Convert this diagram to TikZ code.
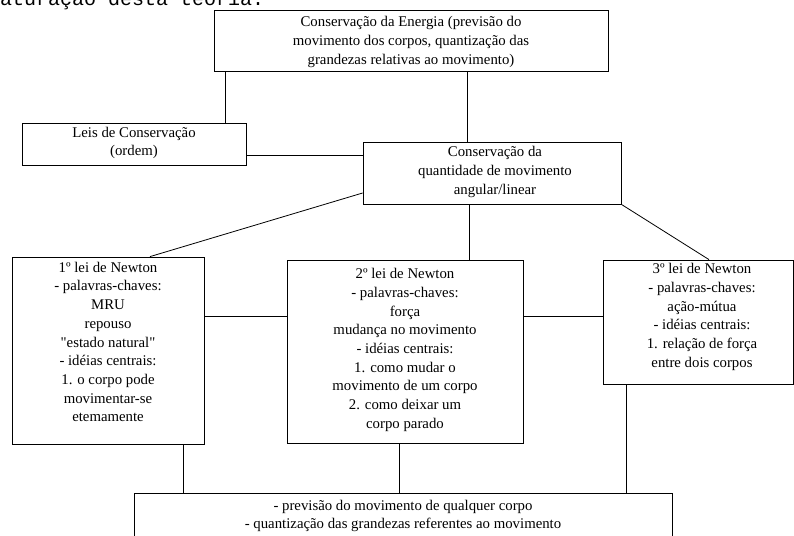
\documentclass[tikz,border=0pt]{standalone}
\usepackage{fontspec}
\setmainfont{Liberation Serif}
\newfontfamily\monofrag{Liberation Mono}
\begin{document}
\begin{tikzpicture}[x=1pt,y=-1pt,
  box/.style={draw, line width=0.8pt, inner sep=0pt},
  txt/.style={align=center, inner sep=0pt, font=\fontsize{14.8}{18.7}\selectfont},
  conn/.style={line width=0.8pt}]
\clip (0,0) rectangle (794,535);
\useasboundingbox (0,0) rectangle (794,535);
% fragment of the preceding text line (cut by the top edge, as in the reference)
\node[anchor=base west, inner sep=0pt, font=\monofrag\fontsize{20}{20}\selectfont] (frag) at (0,5.5) {aturação desta teoria.};
% boxes
\node[box, minimum width=394pt, minimum height=61pt] (energia) at (411,40.5) {};
\node[box, minimum width=224pt, minimum height=42pt] (leis) at (134,144) {};
\node[box, minimum width=258pt, minimum height=62pt] (cq) at (492,173) {};
\node[box, minimum width=192pt, minimum height=187pt] (n1) at (108,350.5) {};
\node[box, minimum width=236pt, minimum height=183pt] (n2) at (405,351.5) {};
\node[box, minimum width=190pt, minimum height=124pt] (n3) at (698,322) {};
\node[box, minimum width=538pt, minimum height=67pt] (prev) at (403,526.5) {};
% texts
\node[txt] (tE) at (411,42) {Conservação da Energia (previsão do\\movimento dos corpos, quantização das\\grandezas relativas ao movimento)};
\node[txt] (tL) at (134,143) {Leis de Conservação\\(ordem)};
\node[txt] (tC) at (495,172) {Conservação da\\quantidade de movimento\\angular/linear};
\node[txt] (t1) at (108,342) {1º lei de Newton\\- palavras-chaves:\\MRU\\repouso\\\textquotedbl estado natural\textquotedbl\\- idéias centrais:\\1. o corpo pode\\movimentar-se\\etemamente};
\node[txt] (t2) at (405,350) {2º lei de Newton\\- palavras-chaves:\\força\\mudança no movimento\\- idéias centrais:\\1. como mudar o\\movimento de um corpo\\2. como deixar um\\corpo parado};
\node[txt] (t3) at (702,317) {3º lei de Newton\\- palavras-chaves:\\ação-mútua\\- idéias centrais:\\1. relação de força\\entre dois corpos};
\node[txt] (tP) at (403,516) {- previsão do movimento de qualquer corpo\\- quantização das grandezas referentes ao movimento};
% helper x positions
\coordinate (xa) at (225,0);
\coordinate (xb) at (467,0);
\coordinate (xc) at (469,0);
\coordinate (xd) at (183,0);
\coordinate (xe) at (399,0);
\coordinate (xf) at (626,0);
% connectors
\draw[conn] (xa |- energia.south) -- (xa |- leis.north);
\draw[conn] (xb |- energia.south) -- (xb |- cq.north);
\draw[conn] ([yshift=-11pt]leis.east) -- ([yshift=-11pt]leis.east -| cq.west);
\draw[conn] ([yshift=-20pt]cq.west) -- ([xshift=42pt]n1.north);
\draw[conn] (xc |- cq.south) -- (xc |- n2.north);
\draw[conn] (cq.south east) -- ([xshift=11pt]n3.north);
\draw[conn] ([yshift=34.5pt]n1.east) -- ([yshift=34.5pt]n1.east -| n2.west);
\draw[conn] ([yshift=35.5pt]n2.east) -- ([yshift=35.5pt]n2.east -| n3.west);
\draw[conn] (xd |- n1.south) -- (xd |- prev.north);
\draw[conn] (xe |- n2.south) -- (xe |- prev.north);
\draw[conn] (xf |- n3.south) -- (xf |- prev.north);
\end{tikzpicture}
\end{document}
